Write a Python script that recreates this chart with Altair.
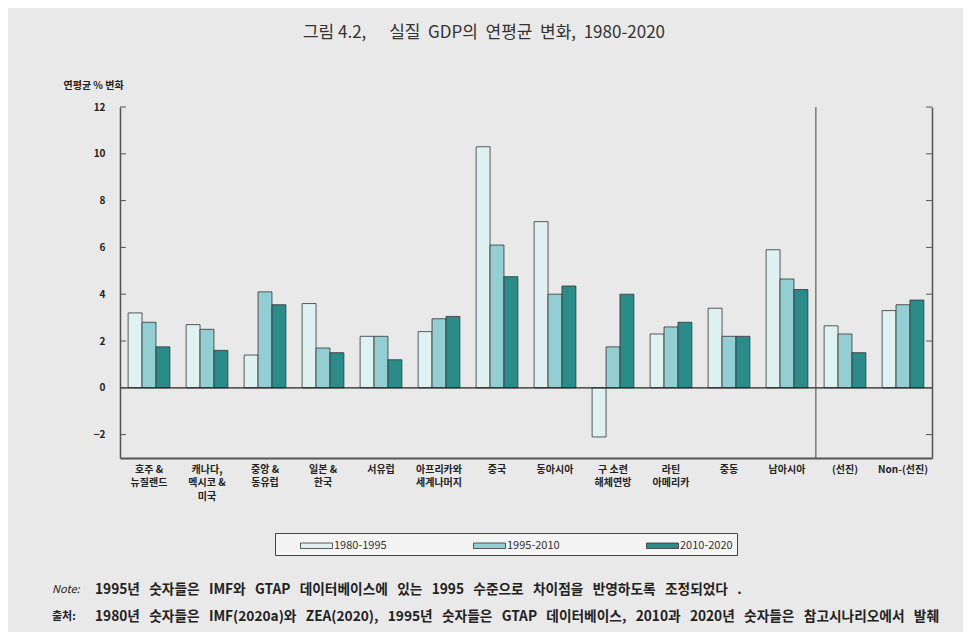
import altair as alt
import pandas as pd

groups = ["호주 &\n뉴질랜드", "캐나다,\n멕시코 &\n미국", "중앙 &\n동유럽", "일본 &\n한국", "서유럽",
          "아프리카와\n세계나머지", "중국", "동아시아", "구 소련\n해체연방", "라틴\n아메리카",
          "중동", "남아시아", "(선진)", "Non-(선진)"]
periods = ["1980-1995", "1995-2010", "2010-2020"]
v_1980_1995 = [3.2, 2.7, 1.4, 3.6, 2.2, 2.4, 10.3, 7.1, -2.1, 2.3, 3.4, 5.9, 2.65, 3.3]
v_1995_2010 = [2.8, 2.5, 4.1, 1.7, 2.2, 2.95, 6.1, 4.0, 1.75, 2.6, 2.2, 4.65, 2.3, 3.55]
v_2010_2020 = [1.75, 1.6, 3.55, 1.5, 1.2, 3.05, 4.75, 4.35, 4.0, 2.8, 2.2, 4.2, 1.5, 3.75]
y_ticks = [-2, 0, 2, 4, 6, 8, 10, 12]
colors = ["#dff1f1", "#93cfd2", "#2a8b88"]

NB = "\u00a0"
def widen(s, n=2):
    return s.replace(" ", NB * n)

title_text = "그림 4.2," + NB * 6 + widen("실질 GDP의 연평균 변화, 1980-2020", 2)
y_title = "연평균 % 변화"
note_label = "Note:"
note_text = widen("1995년 숫자들은 IMF와 GTAP 데이터베이스에 있는 1995 수준으로 차이점을 반영하도록 조정되었다 .", 3)
src_label = "출처:"
src_text = widen("1980년 숫자들은 IMF(2020a)와 ZEA(2020), 1995년 숫자들은 GTAP 데이터베이스, 2010과 2020년 숫자들은 참고시나리오에서 발췌", 3)

rows = []
for i, g in enumerate(groups):
    for p, vals in zip(periods, [v_1980_1995, v_1995_2010, v_2010_2020]):
        rows.append({"group": g, "period": p, "value": vals[i]})
df = pd.DataFrame(rows)

FONT = "Noto Sans CJK KR"
W, H = 812, 351

xscale = alt.Scale(domain=groups, paddingInner=0.28, paddingOuter=0.14)
yscale = alt.Scale(domain=[-3, 12], nice=False, zero=False)

xaxis = alt.Axis(title=None, ticks=False, domainColor="#555", domainWidth=2,
                 labelExpr="split(datum.label, '\\n')", labelAngle=0,
                 labelFont=FONT, labelFontSize=10, labelFontWeight="bold",
                 labelColor="#222", labelPadding=6, labelLineHeight=13.5)

bars = alt.Chart(df).mark_bar(stroke="#333", strokeWidth=0.8).encode(
    x=alt.X("group:N", scale=xscale, sort=groups, axis=xaxis),
    xOffset=alt.XOffset("period:N", sort=periods),
    y=alt.Y("value:Q", scale=yscale,
            axis=alt.Axis(values=y_ticks, ticks=False, grid=False, domainColor="#555",
                          domainWidth=1.5, labelFont=FONT, labelFontSize=10,
                          labelFontWeight="bold",
                          labelColor="#222", labelPadding=15, title=y_title,
                          titleAngle=0, titleAlign="left", titleBaseline="middle",
                          titleX=-57, titleY=-22, titleFont=FONT, titleFontSize=10,
                          titleFontWeight="bold", titleColor="#222")),
    color=alt.Color("period:N", sort=periods,
                    scale=alt.Scale(domain=periods, range=colors),
                    legend=alt.Legend(title=None, orient="none", direction="horizontal",
                                      legendX=155, legendY=426, columns=3,
                                      symbolType="M-2,-0.34H2V0.34H-2Z", symbolSize=256,
                                      symbolStrokeColor="#333", symbolStrokeWidth=0.8,
                                      symbolOffset=29, labelOffset=9,
                                      labelFont=FONT, labelFontSize=11, labelColor="#333",
                                      columnPadding=65, padding=4,
                                      fillColor="#f4f4f4", strokeColor="#444")),
)

zero = alt.Chart(pd.DataFrame({"v": [0]})).mark_rule(color="#222", strokeWidth=1.2).encode(
    y=alt.Y("v:Q", scale=yscale, axis=None))

sep = alt.Chart(pd.DataFrame({"group": [groups[11]]})).mark_rule(
    color="#444", strokeWidth=1, xOffset=8).encode(
    x=alt.X("group:N", scale=xscale, sort=groups, bandPosition=1, axis=xaxis))

tdf = pd.DataFrame({"yt": y_ticks})
ticks_left = alt.Chart(tdf).mark_rule(color="#555").encode(
    y=alt.Y("yt:Q", scale=yscale, axis=None), x=alt.value(0), x2=alt.value(6))
ticks_right = alt.Chart(tdf).mark_rule(color="#555").encode(
    y=alt.Y("yt:Q", scale=yscale,
            axis=alt.Axis(orient="right", labels=False, ticks=False, grid=False,
                          title=None, domainColor="#555", domainWidth=1.5)),
    x=alt.value(W - 6), x2=alt.value(W))

note_lab = alt.Chart(pd.DataFrame({"t": [note_label]})).mark_text(
    font=FONT, fontSize=11, fontStyle="italic", align="left", color="#222").encode(
    text="t:N", x=alt.value(-68), y=alt.value(483))
note_body = alt.Chart(pd.DataFrame({"t": [note_text]})).mark_text(
    font=FONT, fontSize=13.7, fontWeight="bold", align="left", color="#222").encode(
    text="t:N", x=alt.value(-25), y=alt.value(483))
src_lab = alt.Chart(pd.DataFrame({"t": [src_label]})).mark_text(
    font=FONT, fontSize=11, fontWeight="bold", align="left", color="#222").encode(
    text="t:N", x=alt.value(-68), y=alt.value(510))
src_body = alt.Chart(pd.DataFrame({"t": [src_text]})).mark_text(
    font=FONT, fontSize=13.7, fontWeight="bold", align="left", color="#222").encode(
    text="t:N", x=alt.value(-25), y=alt.value(510))

chart = alt.layer(bars, zero, sep, ticks_left, ticks_right,
                  note_lab, note_body, src_lab, src_body).resolve_axis(
    y="independent").properties(
    width=W, height=H,
    title=alt.TitleParams(title_text, font=FONT, fontSize=17, fontWeight="normal",
                          color="#333", anchor="middle", dx=-42, offset=38),
    autosize=alt.AutoSizeParams(type="none"),
    padding={"left": 112, "top": 99, "right": 31, "bottom": 174},
    background="#e9e9e9",
).configure_view(stroke=None)

chart.save("out.html", embed_options={"renderer": "svg", "actions": False})
